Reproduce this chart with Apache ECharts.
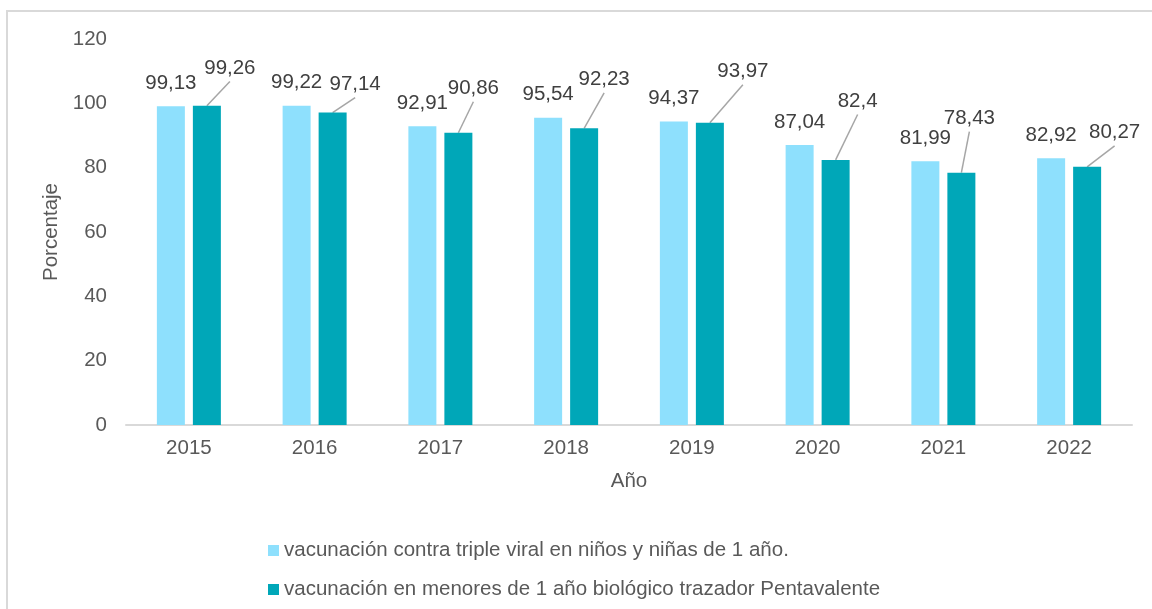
<!DOCTYPE html>
<html>
<head>
<meta charset="utf-8">
<script src="https://cdn.jsdelivr.net/npm/echarts@6/dist/echarts.min.js"></script>
<style>
html,body{margin:0;padding:0;background:#fff;}
#chart{width:1152px;height:609px;}
</style>
</head>
<body>
<div id="chart"></div>
<script>
// ---- data ----
const years = ['2015','2016','2017','2018','2019','2020','2021','2022'];
const tripleViral = [99.13, 99.22, 92.91, 95.54, 94.37, 87.04, 81.99, 82.92];
const pentavalente = [99.26, 97.14, 90.86, 92.23, 93.97, 82.4, 78.43, 80.27];
const seriesNames = [
  'vacunación contra triple viral en niños y niñas de 1 año.',
  'vacunación en menores de 1 año biológico trazador Pentavalente'
];
const yTicks = { min: 0, max: 120, interval: 20 };

// ---- callout label placement (pixel offsets from the bar top) ----
const calloutDx = [23, 22.5, 15, 20, 33, 22, 8, 27.5];
const calloutRise = [-39.2, -30, -46, -50.5, -53, -60.4, -56, -36];

const BAR_W = 28, BAR_GAP_PX = 8;
const fmt = v => String(v).replace('.', ',');
const FONT = '"Liberation Sans", Arial, sans-serif';
const TXT = '#595959';

const chart = echarts.init(document.getElementById('chart'), null, {renderer: 'canvas'});
chart.setOption({
  animation: false,
  backgroundColor: '#ffffff',
  textStyle: { fontFamily: FONT },
  graphic: [{
    type: 'rect',
    shape: { x: 7, y: 11, width: 1300, height: 800 },
    style: { fill: 'none', stroke: '#D9D9D9', lineWidth: 2 },
    silent: true, z: -10
  }],
  grid: { left: 126, right: 20, top: 39, bottom: 184, containLabel: false },
  legend: {
    orient: 'vertical',
    left: 263,
    top: 535,
    icon: 'rect',
    itemWidth: 11,
    itemHeight: 11,
    itemGap: 18,
    textStyle: { fontFamily: FONT, fontSize: 20.5, lineHeight: 21, color: TXT },
    data: seriesNames
  },
  xAxis: {
    type: 'category',
    data: years,
    name: 'Año',
    nameLocation: 'middle',
    nameGap: 46,
    nameTextStyle: { fontFamily: FONT, fontSize: 20.5, color: TXT },
    axisLine: { show: true, lineStyle: { color: '#D9D9D9', width: 2 } },
    axisTick: { show: false },
    axisLabel: { fontFamily: FONT, fontSize: 20.5, color: TXT, margin: 13 }
  },
  yAxis: {
    type: 'value',
    min: yTicks.min, max: yTicks.max, interval: yTicks.interval,
    name: 'Porcentaje',
    nameLocation: 'middle',
    nameGap: 59,
    nameTextStyle: { fontFamily: FONT, fontSize: 20.5, color: TXT },
    axisLine: { show: false },
    axisTick: { show: false },
    splitLine: { show: false },
    axisLabel: { fontFamily: FONT, fontSize: 20.5, color: TXT, margin: 19 }
  },
  series: [
    {
      name: seriesNames[0],
      type: 'bar',
      data: tripleViral,
      barWidth: BAR_W,
      barGap: (BAR_GAP_PX / BAR_W * 100) + '%',
      itemStyle: { color: '#8EE0FD' },
      label: {
        show: true, position: 'top', distance: 12.5,
        fontFamily: FONT, fontSize: 20.5, lineHeight: 21, color: '#404040',
        formatter: p => fmt(p.value)
      }
    },
    {
      name: seriesNames[1],
      type: 'bar',
      data: pentavalente,
      barWidth: BAR_W,
      itemStyle: { color: '#00A7B8' },
      label: {
        show: true, position: 'top', distance: 5,
        fontFamily: FONT, fontSize: 20.5, lineHeight: 21, color: '#404040',
        formatter: p => fmt(p.value)
      },
      labelLayout: function (params) {
        return { dx: calloutDx[params.dataIndex], dy: calloutRise[params.dataIndex] + 17 };
      }
    },
    {
      name: 'leader',
      type: 'custom',
      data: pentavalente.map((v, i) => [i, v]),
      silent: true,
      z: 1,
      renderItem: function (params, api) {
        const i = params.dataIndex;
        const p = api.coord([api.value(0), api.value(1)]);
        const x0 = p[0] + (BAR_W + BAR_GAP_PX) / 2;
        const y0 = p[1];
        return {
          type: 'line',
          shape: { x1: x0, y1: y0, x2: x0 + calloutDx[i], y2: y0 + calloutRise[i] + 15 },
          style: { stroke: '#A6A6A6', lineWidth: 1.5 }
        };
      }
    }
  ]
});
</script>
</body>
</html>
